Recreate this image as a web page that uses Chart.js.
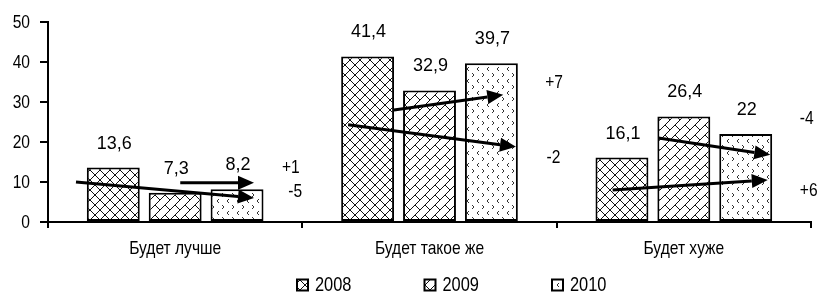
<!DOCTYPE html>
<html>
<head>
<meta charset="utf-8">
<script src="https://cdn.jsdelivr.net/npm/chart.js@4.4.1/dist/chart.umd.min.js"></script>
<style>
  body { margin: 0; background: #fff; }
  #wrap { width: 817px; height: 300px; }
</style>
</head>
<body>
<div id="wrap"><canvas id="chart"></canvas></div>
<script>
// Categories and series values
const categories = ['Будет лучше', 'Будет такое же', 'Будет хуже'];
const years = ['2008', '2009', '2010'];
const values2008 = [13.6, 41.4, 16.1];
const values2009 = [7.3, 32.9, 26.4];
const values2010 = [8.2, 39.7, 22];
const yTicks = [0, 10, 20, 30, 40, 50];

// Trend arrows: category index, start/end offset from category centre (in category widths), start/end value
const arrowCat = [0, 0, 1, 1, 2, 2];
const arrowStartX = [-0.39, 0.02, -0.14, -0.32, -0.10, -0.28];
const arrowStartY = [10, 9.8, 28, 24.3, 21, 8];
const arrowEndX = [0.31, 0.31, 0.29, 0.34, 0.34, 0.33];
const arrowEndY = [6, 9.8, 31.8, 18.8, 16.8, 10.5];

// Change labels next to the arrows
const changeText = ['+1', '-5', '+7', '-2', '-4', '+6'];
const changeCat = [0, 0, 1, 1, 2, 2];
const changeX = [0.42, 0.445, 0.455, 0.46, 0.456, 0.456];
const changeY = [13.5, 7.5, 34.7, 16, 25.7, 7.7];

const FONT = "'Liberation Sans', Arial, sans-serif";
const NARROW = 0.82; // no narrow face installed, so squeeze Liberation Sans

// Build fill patterns
function makeTile(w, h, draw) {
    const c = document.createElement('canvas');
    c.width = w;
    c.height = h;
    const t = c.getContext('2d');
    t.fillStyle = '#fff';
    t.fillRect(0, 0, w, h);
    t.strokeStyle = '#111';
    t.lineWidth = 1;
    draw(t, w, h);
    return document.getElementById('chart').getContext('2d').createPattern(c, 'repeat');
}

const pattern2008 = makeTile(10, 10, (t, w, h) => {
    t.beginPath();
    t.moveTo(0, 0); t.lineTo(w, h);
    t.moveTo(0, h); t.lineTo(w, 0);
    t.stroke();
});

const pattern2009 = makeTile(10, 10, (t, w, h) => {
    t.beginPath();
    t.moveTo(0, h); t.lineTo(w, 0);
    t.moveTo(w / 2, h / 2); t.lineTo(w, h);
    t.stroke();
});

const pattern2010 = makeTile(10, 12, (t) => {
    t.strokeStyle = '#333';
    t.beginPath();
    t.moveTo(2, 1); t.lineTo(4, 3); t.lineTo(2, 5);
    t.moveTo(9, 7); t.lineTo(7, 9); t.lineTo(9, 11);
    t.stroke();
});

const patterns = [pattern2008, pattern2009, pattern2010];

function narrowText(ctx, txt, x, y, align) {
    ctx.save();
    ctx.translate(x, y);
    ctx.scale(NARROW, 1);
    ctx.textAlign = align;
    ctx.fillText(txt, 0, 0);
    ctx.restore();
}

function drawArrow(ctx, x0, y0, x1, y1) {
    const a = Math.atan2(y1 - y0, x1 - x0);
    const len = 16, half = 7;
    const bx = x1 - len * Math.cos(a), by = y1 - len * Math.sin(a);
    ctx.beginPath();
    ctx.moveTo(x0, y0);
    ctx.lineTo(bx, by);
    ctx.lineWidth = 3;
    ctx.strokeStyle = '#000';
    ctx.stroke();
    ctx.beginPath();
    ctx.moveTo(x1, y1);
    ctx.lineTo(bx - half * Math.sin(a), by + half * Math.cos(a));
    ctx.lineTo(bx + half * Math.sin(a), by - half * Math.cos(a));
    ctx.closePath();
    ctx.fillStyle = '#000';
    ctx.fill();
}

// Value labels, arrows, change numbers, axis labels and legend
const decorPlugin = {
    id: 'decor',
    afterDatasetsDraw(chart) {
        const { ctx, scales: { x, y } } = chart;
        const catW = x.width / categories.length;
        ctx.save();
        ctx.font = '18px ' + FONT;
        ctx.fillStyle = '#000';
        ctx.textAlign = 'center';
        ctx.textBaseline = 'middle';
        chart.data.datasets.forEach((ds, i) => {
            chart.getDatasetMeta(i).data.forEach((bar, j) => {
                ctx.fillText(String(ds.data[j]).replace('.', ','), bar.x + 1, bar.y - 24);
            });
        });

        arrowCat.forEach((c, k) => {
            const cx = x.getPixelForValue(c);
            drawArrow(ctx,
                cx + arrowStartX[k] * catW, y.getPixelForValue(arrowStartY[k]),
                cx + arrowEndX[k] * catW, y.getPixelForValue(arrowEndY[k]));
        });

        ctx.fillStyle = '#000';
        ctx.font = '19px ' + FONT;
        changeText.forEach((txt, k) => {
            const cx = x.getPixelForValue(changeCat[k]);
            narrowText(ctx, txt, cx + changeX[k] * catW, y.getPixelForValue(changeY[k]), 'left');
        });
        ctx.restore();
    },
    afterDraw(chart) {
        const { ctx, scales: { x, y } } = chart;
        ctx.save();
        ctx.fillStyle = '#000';
        ctx.textBaseline = 'middle';
        ctx.font = '19px ' + FONT;
        // y tick labels at the scale's tick positions
        y.ticks.forEach(t => {
            narrowText(ctx, String(t.value), y.right - 18, y.getPixelForValue(t.value) + 1, 'right');
        });
        // category labels
        categories.forEach((c, i) => {
            narrowText(ctx, c, x.getPixelForValue(i), x.top + 27, 'center');
        });

        // legend
        const left = 297, step = 127.5, ly = 285;
        ctx.font = '20px ' + FONT;
        chart.data.datasets.forEach((ds, i) => {
            const lx = left + i * step;
            ctx.fillStyle = ds.backgroundColor;
            ctx.fillRect(lx, ly - 5.5, 11, 11);
            ctx.lineWidth = 2;
            ctx.strokeStyle = '#000';
            ctx.strokeRect(lx, ly - 5.5, 11, 11);
            ctx.fillStyle = '#000';
            narrowText(ctx, ds.label, lx + 18, ly, 'left');
        });
        ctx.restore();
    }
};

const seriesValues = [values2008, values2009, values2010];

new Chart(document.getElementById('chart'), {
    type: 'bar',
    data: {
        labels: categories,
        datasets: years.map((yr, i) => ({
            label: yr,
            data: seriesValues[i],
            backgroundColor: patterns[i],
            borderColor: '#000',
            borderWidth: 2,
            borderSkipped: false,
            categoryPercentage: 0.73,
            barPercentage: 0.855
        }))
    },
    options: {
        responsive: true,
        maintainAspectRatio: false,
        animation: false,
        layout: { padding: { top: 22, right: 6, bottom: 40, left: 0 } },
        plugins: {
            legend: { display: false },
            tooltip: { enabled: false }
        },
        scales: {
            x: {
                afterFit: s => { s.height = 38; },
                grid: { offset: true, drawOnChartArea: false, tickLength: 6, color: '#000', lineWidth: 2 },
                border: { color: '#000', width: 2 },
                ticks: { display: false }
            },
            y: {
                min: 0,
                max: 50,
                afterFit: s => { s.width = 48; },
                afterBuildTicks: s => { s.ticks = yTicks.map(v => ({ value: v })); },
                grid: { drawOnChartArea: false, tickLength: 8, color: '#000', lineWidth: 2 },
                border: { color: '#000', width: 2 },
                ticks: { display: false }
            }
        }
    },
    plugins: [decorPlugin]
});
</script>
</body>
</html>
